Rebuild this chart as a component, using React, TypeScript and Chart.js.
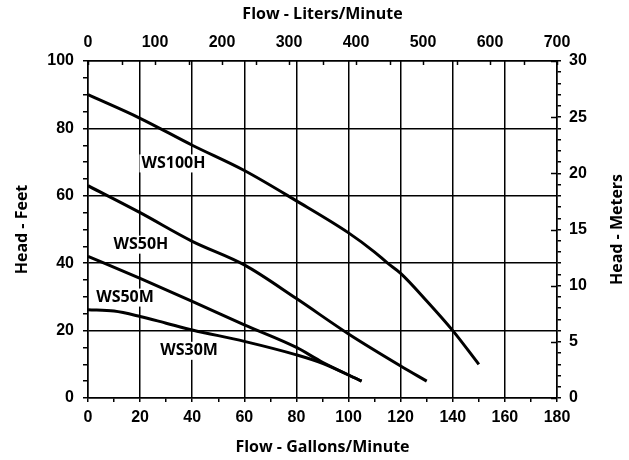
import React, { useEffect, useRef } from "react";
import { Chart, registerables } from "chart.js";

Chart.register(...registerables);

// ---- Data (Flow in gallons/minute, Head in feet) ----
const ws100hFlow = [0, 20, 40, 60, 80, 100, 110, 115, 120, 130, 140, 150];
const ws100hHead = [90, 83, 75, 67.5, 58.5, 49, 43.3, 40, 37, 28.8, 20, 10];

const ws50hFlow = [0, 20, 40, 60, 80, 100, 120, 130];
const ws50hHead = [63, 55, 46.5, 39.5, 29.5, 19, 9.5, 5];

const ws50mFlow = [0, 20, 40, 60, 80, 90, 105];
const ws50mHead = [42, 35.5, 28.7, 21.7, 15, 10.6, 5];

const ws30mFlow = [0, 10, 20, 30, 40, 60, 80, 90, 105];
const ws30mHead = [26.2, 25.8, 24.2, 22.2, 20.2, 16.8, 12.8, 10.3, 5];

const seriesNames = ["WS100H", "WS50H", "WS50M", "WS30M"];
const labelFlow = [32.8, 20.3, 14.2, 38.8];
const labelHead = [69.6, 45.5, 29.8, 14.0];

const bottomTitle = "Flow - Gallons/Minute";
const topTitle = "Flow - Liters/Minute";
const leftTitle = "Head - Feet";
const rightTitle = "Head - Meters";

const BLACK = "#000000";
const tickFont = { family: "'Liberation Sans', Arial, sans-serif", size: 16, weight: "bold" as const };
const titleFont = { family: "'Open Sans', sans-serif", size: 16, weight: "bold" as const, lineHeight: 1.2 };
const seriesFont = "bold 16px 'Open Sans', sans-serif";

function toPoints(xs: number[], ys: number[]) {
  return xs.map((x, i) => ({ x, y: ys[i] }));
}

const overlayPlugin = {
  id: "overlay",
  beforeDatasetsDraw(chart: any) {
    const ctx = chart.ctx;
    const sx = chart.scales.x;
    const sy = chart.scales.y;
    ctx.save();
    ctx.font = seriesFont;
    ctx.textAlign = "center";
    ctx.textBaseline = "middle";
    seriesNames.forEach((name, i) => {
      const px = sx.getPixelForValue(labelFlow[i]);
      const py = sy.getPixelForValue(labelHead[i]);
      const w = ctx.measureText(name).width;
      ctx.fillStyle = "#ffffff";
      ctx.fillRect(px - w / 2 - 2, py - 9, w + 4, 18);
      ctx.fillStyle = BLACK;
      ctx.fillText(name, px, py);
    });
    ctx.restore();
  },
  afterDraw(chart: any) {
    const ctx = chart.ctx;
    const area = chart.chartArea;
    ctx.save();
    ctx.strokeStyle = BLACK;
    ctx.lineWidth = 1.5;
    // inward ticks on top (L/min) axis
    const sTop = chart.scales.x2;
    sTop.ticks.forEach((t: any) => {
      const px = Math.round(sTop.getPixelForValue(t.value)) + 0.5;
      ctx.beginPath();
      ctx.moveTo(px, area.top);
      ctx.lineTo(px, area.top + 4);
      ctx.stroke();
    });
    // inward major ticks on right (m) axis
    const sRight = chart.scales.y2;
    sRight.ticks.forEach((t: any) => {
      if (t.value % 5 !== 0) return;
      const py = Math.round(sRight.getPixelForValue(t.value)) + 0.5;
      ctx.beginPath();
      ctx.moveTo(area.right - 6, py);
      ctx.lineTo(area.right, py);
      ctx.stroke();
    });
    // right title, reading bottom to top
    ctx.fillStyle = BLACK;
    ctx.font = "bold 16px 'Open Sans', sans-serif";
    ctx.textAlign = "center";
    ctx.textBaseline = "middle";
    ctx.translate(617, (area.top + area.bottom) / 2);
    ctx.rotate(-Math.PI / 2);
    ctx.fillText(rightTitle, 0, 0);
    ctx.restore();
  },
};

export default function App() {
  const ref = useRef<HTMLCanvasElement>(null);

  useEffect(() => {
    document.body.style.margin = "0";
    const canvas = ref.current;
    if (!canvas) return;

    const lineStyle = {
      borderColor: BLACK,
      borderWidth: 3,
      pointRadius: 0,
      fill: false,
      cubicInterpolationMode: "monotone" as const,
      xAxisID: "x",
      yAxisID: "y",
    };

    const majorGrid = (step: number) => (ctx: any) =>
      ctx.tick && ctx.tick.value % step === 0 ? BLACK : "rgba(0,0,0,0)";

    const chart = new Chart(canvas, {
      type: "line",
      data: {
        datasets: [
          { label: seriesNames[0], data: toPoints(ws100hFlow, ws100hHead), ...lineStyle },
          { label: seriesNames[1], data: toPoints(ws50hFlow, ws50hHead), ...lineStyle },
          { label: seriesNames[2], data: toPoints(ws50mFlow, ws50mHead), ...lineStyle },
          { label: seriesNames[3], data: toPoints(ws30mFlow, ws30mHead), ...lineStyle },
        ],
      },
      options: {
        responsive: false,
        animation: false,
        layout: { padding: 0 },
        plugins: { legend: { display: false }, tooltip: { enabled: false } },
        scales: {
          x: {
            type: "linear",
            position: "bottom",
            min: 0,
            max: 180,
            afterFit: (s: any) => { s.height = 62; },
            ticks: {
              stepSize: 10,
              autoSkip: false,
              maxRotation: 0,
              padding: 6,
              color: BLACK,
              font: tickFont,
              callback: (v: any) => (v % 20 === 0 ? String(v) : ""),
            },
            grid: { color: majorGrid(20), lineWidth: 1.5, tickColor: BLACK, tickLength: 4, tickWidth: 1.5 },
            border: { color: BLACK, width: 1.5 },
            title: { display: true, text: bottomTitle, color: BLACK, font: titleFont, padding: { top: 0, bottom: 3 } },
          },
          x2: {
            type: "linear",
            position: "top",
            min: 0,
            max: 700,
            afterFit: (s: any) => { s.height = 61; },
            ticks: {
              stepSize: 50,
              autoSkip: false,
              maxRotation: 0,
              padding: 9,
              color: BLACK,
              font: tickFont,
              callback: (v: any) => (v % 100 === 0 ? String(v) : ""),
            },
            grid: { drawOnChartArea: false, drawTicks: false },
            border: { color: BLACK, width: 1.5 },
            title: { display: true, text: topTitle, color: BLACK, font: titleFont, padding: { top: 5, bottom: 0 } },
          },
          y: {
            type: "linear",
            position: "left",
            min: 0,
            max: 100,
            afterFit: (s: any) => { s.width = 88; },
            ticks: {
              stepSize: 5,
              autoSkip: false,
              padding: 9,
              color: BLACK,
              font: tickFont,
              callback: (v: any) => (v % 20 === 0 ? String(v) : ""),
            },
            grid: { color: majorGrid(20), lineWidth: 1.5, tickColor: BLACK, tickLength: 5, tickWidth: 1.5 },
            border: { color: BLACK, width: 1.5 },
            title: { display: true, text: leftTitle, color: BLACK, font: titleFont, padding: { top: 13, bottom: 0 } },
          },
          y2: {
            type: "linear",
            position: "right",
            display: true,
            min: 0,
            max: 30,
            afterFit: (s: any) => { s.width = 72; },
            ticks: {
              stepSize: 1,
              autoSkip: false,
              padding: 8,
              color: BLACK,
              font: tickFont,
              callback: (v: any) => (v % 5 === 0 ? String(v) : ""),
            },
            grid: { drawOnChartArea: false, tickColor: BLACK, tickLength: 4, tickWidth: 1.5, lineWidth: 1.5 },
            border: { color: BLACK, width: 1.5 },
          },
        },
      },
      plugins: [overlayPlugin],
    } as any);

    return () => chart.destroy();
  }, []);

  return (
    <div style={{ width: 629, height: 460 }}>
      <canvas ref={ref} width={629} height={460} style={{ display: "block", width: 629, height: 460 }} />
    </div>
  );
}
